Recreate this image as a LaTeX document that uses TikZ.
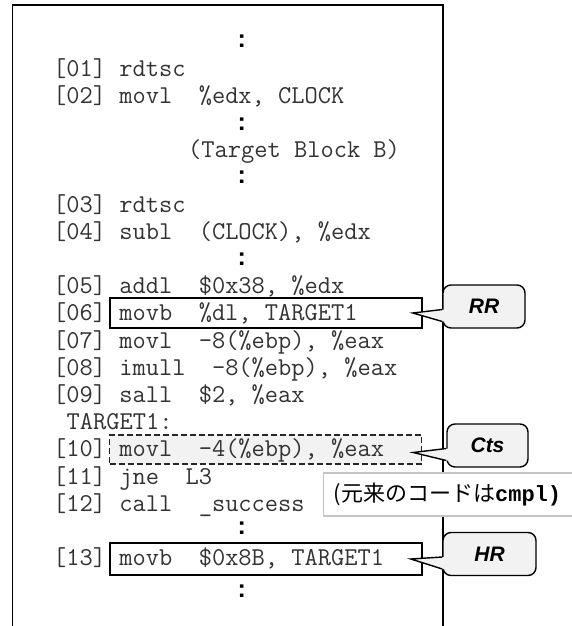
\documentclass[tikz,border=0pt]{standalone}
\usepackage{fontspec}
\setmainfont{Liberation Sans}
\newfontfamily\jpfont{Noto Sans CJK JP}
\newfontfamily\boldmono{Liberation Mono}
\definecolor{tagfill}{HTML}{F2F2F2}
\definecolor{notegray}{HTML}{C4C4C4}
\definecolor{codegray}{HTML}{333333}
% pointer of a tag: #1 tag node, #2 tip
\newcommand\tagpointer[2]{%
  \fill[tagfill] ([yshift=-3pt]#1.west) -- (#2) -- ([yshift=-15pt]#1.west)
    -- ([xshift=2pt,yshift=-15pt]#1.west) -- ([xshift=2pt,yshift=-3pt]#1.west) -- cycle;
  \draw[line width=1.4pt] ([yshift=-3pt]#1.west) -- (#2) -- ([yshift=-15pt]#1.west);}

\begin{document}
\begin{tikzpicture}[x=1pt,y=-1pt]
  \tikzset{code/.style={anchor=base west,inner sep=0pt,text=codegray,font=\ttfamily\fontsize{25.7}{27}\selectfont},
    vdots/.style={inner sep=0pt,font=\bfseries\fontsize{25}{25}\selectfont},
    hlbox/.style={draw,line width=1.6pt,minimum width=312pt,inner sep=0pt},
    tag/.style={draw,line width=1.4pt,fill=tagfill,rounded corners=8pt,inner sep=0pt,minimum height=43pt,font=\bfseries\itshape\fontsize{21}{21}\selectfont}}
  \useasboundingbox (0,0) rectangle (571,626);
  \draw[line width=1.4pt] (12.5,630) -- (12.5,5) -- (443,5) -- (443,630);
  % marked instructions
  \node[hlbox,minimum height=30pt] (b06) at (266,313) {};
  \node[hlbox,minimum height=29pt,draw=black!85,fill=tagfill,line width=1.4pt,dash pattern=on 6pt off 3pt] (b10) at (265.5,449.5) {};
  \node[hlbox,minimum height=32pt] (b13) at (266,559) {};
  % listing
  \node[code] (l01) at (53,76) {[01] rdtsc};
  \node[code] (l02) at (53,103.2) {[02] movl~~\%edx, CLOCK};
  \node[code] (blk) at (188,157.6) {(Target Block B)};
  \node[code] (l03) at (53,212) {[03] rdtsc};
  \node[code] (l04) at (53,239.2) {[04] subl~~(CLOCK), \%edx};
  \node[code] (l05) at (53,293.6) {[05] addl~~\$0x38, \%edx};
  \node[code] (l06) at (53,320.8) {[06] movb~~\%dl, TARGET1};
  \node[code] (l07) at (53,348) {[07] movl~~-8(\%ebp), \%eax};
  \node[code] (l08) at (53,375.2) {[08] imull~~-8(\%ebp), \%eax};
  \node[code] (l09) at (53,402.4) {[09] sall~~\$2, \%eax};
  \node[code] (lbl) at (66.5,429.6) {TARGET1:};
  \node[code] (l10) at (53,456.8) {[10] movl~~-4(\%ebp), \%eax};
  \node[code] (l11) at (53,484) {[11] jne~~L3};
  \node[code] (l12) at (53,511.2) {[12] call~~\_success};
  \node[code] (l13) at (53,565.6) {[13] movb~~\$0x8B, TARGET1};
  \foreach \y [count=\i] in {41.5,124,177.5,259.5,528,591.5}
    \node[vdots] (gap\i) at (241.7,\y) {:};
  % tags
  \node[tag,minimum width=82pt] (rr) at (484,306.5) {RR};
  \node[tag,minimum width=81pt] (cts) at (487.5,445.5) {Cts};
  \node[tag,minimum width=93pt] (hr) at (489.5,554) {HR};
  \tagpointer{rr}{[xshift=-10pt]b06.east}
  \tagpointer{cts}{[xshift=-9pt,yshift=-3pt]b10.east}
  \tagpointer{hr}{[xshift=-12pt]b13.east}
  \node[draw=notegray,line width=1.4pt,fill=white,anchor=west,minimum height=43pt,
    text width=240pt,inner xsep=10pt,font=\fontsize{22}{22}\selectfont] (note) at (323,494.5)
    {{\jpfont (元来のコードは}{\boldmono\bfseries cmpl)}};
\end{tikzpicture}
\end{document}
